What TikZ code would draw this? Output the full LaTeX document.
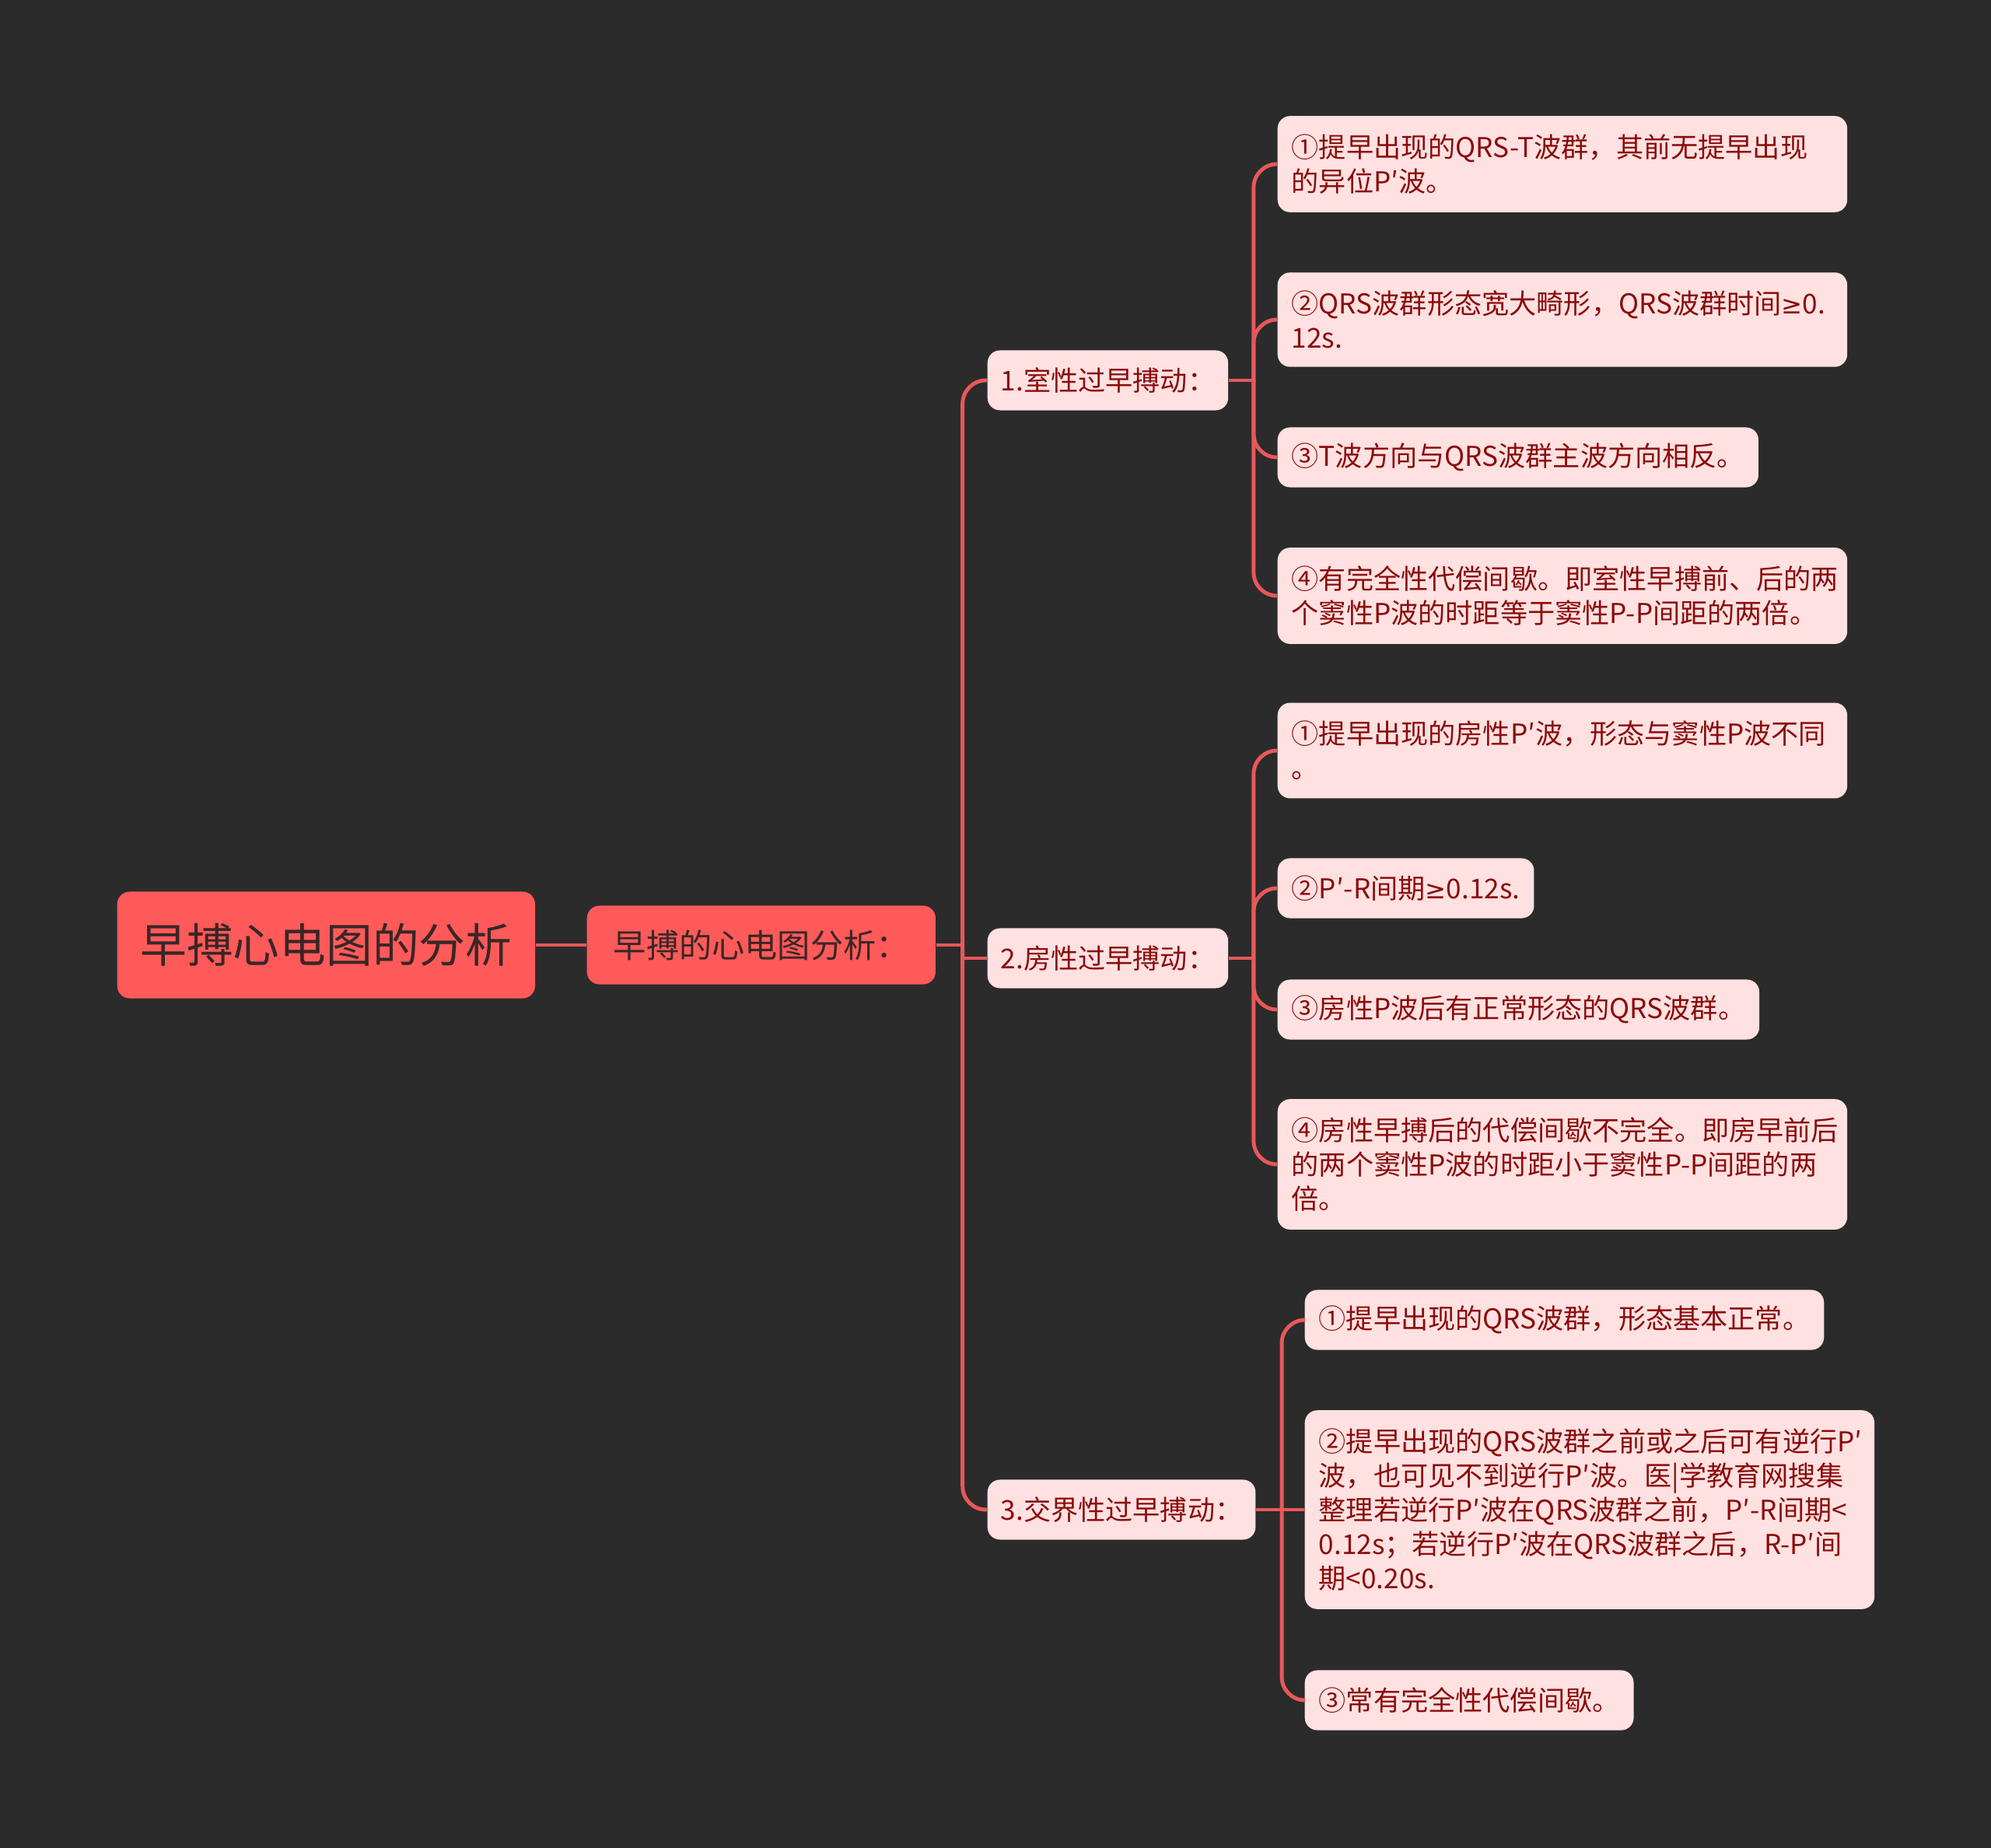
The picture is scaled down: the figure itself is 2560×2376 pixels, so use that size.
\documentclass[tikz,border=0pt]{standalone}
\usepackage{fontspec}
\setmainfont{Noto Sans CJK SC}
\newfontfamily\symfont[Scale=0.92]{DejaVu Sans}
\newcommand{\geqs}{{\symfont ≥}}
\usetikzlibrary{positioning}

\definecolor{bgdark}{HTML}{2B2B2B}
\definecolor{coral}{HTML}{FF5A5A}
\definecolor{blush}{HTML}{FFE1E1}
\definecolor{wine}{HTML}{8C0B0B}
\definecolor{linkred}{HTML}{E8585A}
\definecolor{inkdark}{HTML}{3A2626}

\tikzset{
  box/.style={rounded corners=0.16cm, anchor=west, align=left},
  topic/.style={box, fill=coral, text=inkdark, align=center},
  branch/.style={box, fill=blush, text=wine, font=\fontsize{10}{12.5}\selectfont,
    inner xsep=0.17cm, inner ysep=0.2cm, minimum height=0.77cm},
  leaf/.style={branch, inner xsep=0.18cm},
  wide/.style={text width=6.96cm, inner ysep=0.235cm},
  link/.style={draw=linkred, line width=1.4pt},
}

\begin{document}
\begin{tikzpicture}[x=0.01cm,y=-0.01cm]
\fill[bgdark] (0,0) rectangle (2560,2376);
\useasboundingbox (0,0) rectangle (2560,2376);

% main topics
\node[topic, font=\fontsize{17}{20}\selectfont, minimum width=5.37cm, minimum height=1.37cm] (root) at (150,1215) {早搏心电图的分析};
\node[topic, font=\fontsize{12}{15}\selectfont, minimum width=4.48cm, minimum height=1.01cm] (sub) at (754,1215) {早搏的心电图分析：};

% three kinds
\node[branch] (vent) at (1269,489) {1.室性过早搏动：};
\node[branch] (atri) at (1269,1232) {2.房性过早搏动：};
\node[branch] (junc) at (1269,1941) {3.交界性过早搏动：};

% ventricular
\node[leaf,wide] (v1) at (1642,211) {①提早出现的QRS-T波群，其前无提早出现\\的异位P′波。};
\node[leaf,wide] (v2) at (1642,411) {②QRS波群形态宽大畸形，QRS波群时间\geqs0.\\12s.};
\node[leaf] (v3) at (1642,588) {③T波方向与QRS波群主波方向相反。};
\node[leaf,wide] (v4) at (1642,766) {④有完全性代偿间歇。即室性早搏前、后的两\\个窦性P波的时距等于窦性P-P间距的两倍。};

% atrial
\node[leaf,wide] (a1) at (1642,965) {①提早出现的房性P′波，形态与窦性P波不同\\。};
\node[leaf] (a2) at (1642,1142) {②P′-R间期\geqs0.12s.};
\node[leaf] (a3) at (1642,1298) {③房性P波后有正常形态的QRS波群。};
\node[leaf,wide] (a4) at (1642,1497) {④房性早搏后的代偿间歇不完全。即房早前后\\的两个窦性P波的时距小于窦性P-P间距的两\\倍。};

% junctional
\node[leaf] (j1) at (1677,1697) {①提早出现的QRS波群，形态基本正常。};
\node[leaf,wide] (j2) at (1677,1941) {②提早出现的QRS波群之前或之后可有逆行P′\\波，也可见不到逆行P′波。医|学教育网搜集\\整理若逆行P′波在QRS波群之前，P′-R间期<\\0.12s；若逆行P′波在QRS波群之后，R-P′间\\期<0.20s.};
\node[leaf] (j3) at (1677,2186) {③常有完全性代偿间歇。};

% connectors
\coordinate (hub) at ([xshift=0.34cm]sub.east);
\coordinate (vh) at ([xshift=0.32cm]vent.east);
\coordinate (ah) at ([xshift=0.32cm]atri.east);
\coordinate (jh) at ([xshift=0.33cm]junc.east);
\draw[link] (root) -- (sub);
\draw[link] (sub) -- (hub);
\draw[link,rounded corners=0.3cm] (hub) |- (vent.west);
\draw[link,rounded corners=0.3cm] (hub) |- (junc.west);
\draw[link] (hub) |- (atri.west);
\draw[link] (vent) -- (vh);
\draw[link] (atri) -- (ah);
\draw[link] (junc) -- (jh);
\foreach \l in {v1,v2,v3,v4}
  \draw[link,rounded corners=0.3cm] (vh) |- (\l.west);
\foreach \l in {a1,a2,a3,a4}
  \draw[link,rounded corners=0.3cm] (ah) |- (\l.west);
\draw[link,rounded corners=0.3cm] (jh) |- (j1.west);
\draw[link,rounded corners=0.3cm] (jh) |- (j3.west);
\draw[link] (jh) -- (j2.west);
\end{tikzpicture}
\end{document}
